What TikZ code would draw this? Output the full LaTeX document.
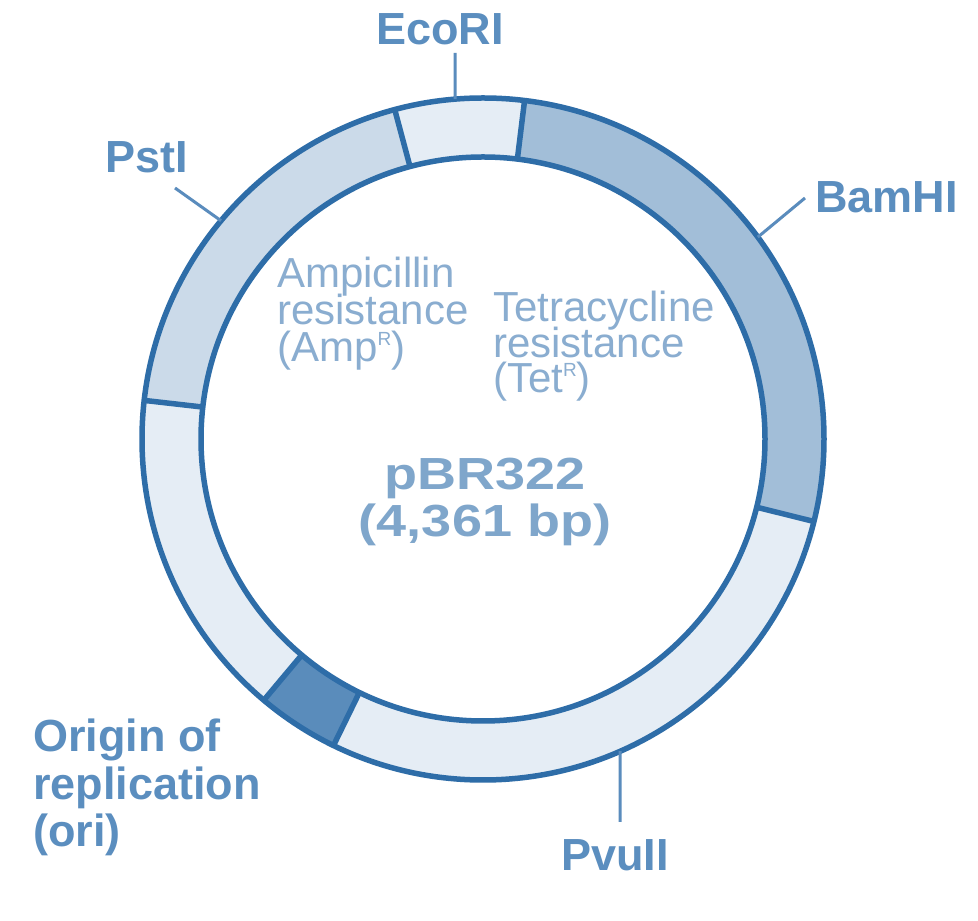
\documentclass[tikz,border=0pt]{standalone}
\usepackage{fontspec}
\setmainfont{Liberation Sans}
\newfontfamily\widefont[FakeStretch=1.2]{Liberation Sans}
\usetikzlibrary{calc}
\definecolor{ringline}{HTML}{2E6DA8}
\definecolor{leadc}{HTML}{5A8CBD}
\definecolor{labelc}{HTML}{5B8EBF}
\definecolor{innerc}{HTML}{8AADD0}
\definecolor{centerc}{HTML}{7FA6CB}
\definecolor{segpale}{HTML}{E5EDF5}
\definecolor{segamp}{HTML}{CBDAE9}
\definecolor{segtet}{HTML}{A2BED8}
\definecolor{segori}{HTML}{5A8CBB}
\newcommand\plasseg[3]{\fill[#3] (#1:341pt) arc[start angle=#1,end angle=#2,radius=341pt] -- (#2:282pt) arc[start angle=#2,end angle=#1,radius=282pt] -- cycle;}
% stacked lines: baseline of the block = baseline of its first line
\newcommand\stackL[2]{\vtop{\baselineskip=#1\lineskiplimit=-200pt\lineskip=0pt\halign{##\hfil\cr #2\cr}}}
\newcommand\stackC[2]{\vtop{\baselineskip=#1\lineskiplimit=-200pt\lineskip=0pt\halign{\hfil##\hfil\cr #2\cr}}}
\tikzset{
  ringstroke/.style={draw=ringline, line width=5.5pt},
  leader/.style={draw=leadc, line width=3pt},
  sitelabel/.style={inner sep=0pt, text=labelc, font=\fontsize{45}{47}\selectfont\bfseries},
  genelabel/.style={inner sep=0pt, text=innerc, font=\fontsize{42}{42}\selectfont},
  centerlabel/.style={inner sep=0pt, text=centerc, font=\widefont\fontsize{45}{47}\selectfont\bfseries},
}
\newcommand\supR{\raisebox{16pt}{\fontsize{19}{19}\selectfont R}}
\begin{document}
\begin{tikzpicture}[x=1pt,y=1pt]
\fill[white] (0,0) rectangle (978,921);
\useasboundingbox (0,0) rectangle (978,921);
\begin{scope}[shift={(483,482)}]
  % ring segments
  \plasseg{83}{105}{segpale}
  \plasseg{105}{173.5}{segamp}
  \plasseg{173.5}{230}{segpale}
  \plasseg{230}{244}{segori}
  \plasseg{244}{346}{segpale}
  \plasseg{-14}{83}{segtet}
  \draw[ringstroke] (0,0) circle[radius=341pt];
  \draw[ringstroke] (0,0) circle[radius=282pt];
  \foreach \a in {83,105,173.5,230,244,-14}
    \draw[ringstroke] (\a:282pt) -- (\a:341pt);
  % leader coordinates
  \coordinate (ecoA) at (94.7:341pt);
  \coordinate (ecoB) at (-28,386);
  \coordinate (bamA) at (36.3:341pt);
  \coordinate (bamB) at (322,241);
  \coordinate (pstA) at (140.2:341pt);
  \coordinate (pstB) at (-308,251);
  \coordinate (pvuA) at (-66.3:341pt);
  \coordinate (pvuB) at (137,-383);
  \draw[leader] (ecoA) -- (ecoB);
  \draw[leader] (bamA) -- (bamB);
  \draw[leader] (pstA) -- (pstB);
  \draw[leader] (pvuA) -- (pvuB);
  % site labels
  \node[sitelabel, anchor=base] (eco) at (-43,394) {EcoRI};
  \node[sitelabel, anchor=base west] (bam) at (332,226) {BamHI};
  \node[sitelabel, anchor=base west] (pst) at (-378,266) {PstI};
  \node[sitelabel, anchor=base] (pvu) at (132,-432) {PvuII};
  \node[sitelabel, anchor=base west] (ori) at (-450,-313)
    {\stackL{47.5pt}{Origin of\cr replication\cr (ori)}};
  % gene labels
  \node[genelabel, anchor=base west] (amp) at (-206,151)
    {\stackL{37pt}{Ampicillin\cr resistance\cr (Amp\supR)}};
  \node[genelabel, anchor=base west] (tet) at (10,117)
    {\stackL{35.5pt}{Tetracycline\cr resistance\cr (Tet\supR)}};
  % centre
  \node[centerlabel, anchor=base] (name) at (2,-51)
    {\stackC{47pt}{pBR322\cr (4,361 bp)}};
\end{scope}
\end{tikzpicture}
\end{document}
